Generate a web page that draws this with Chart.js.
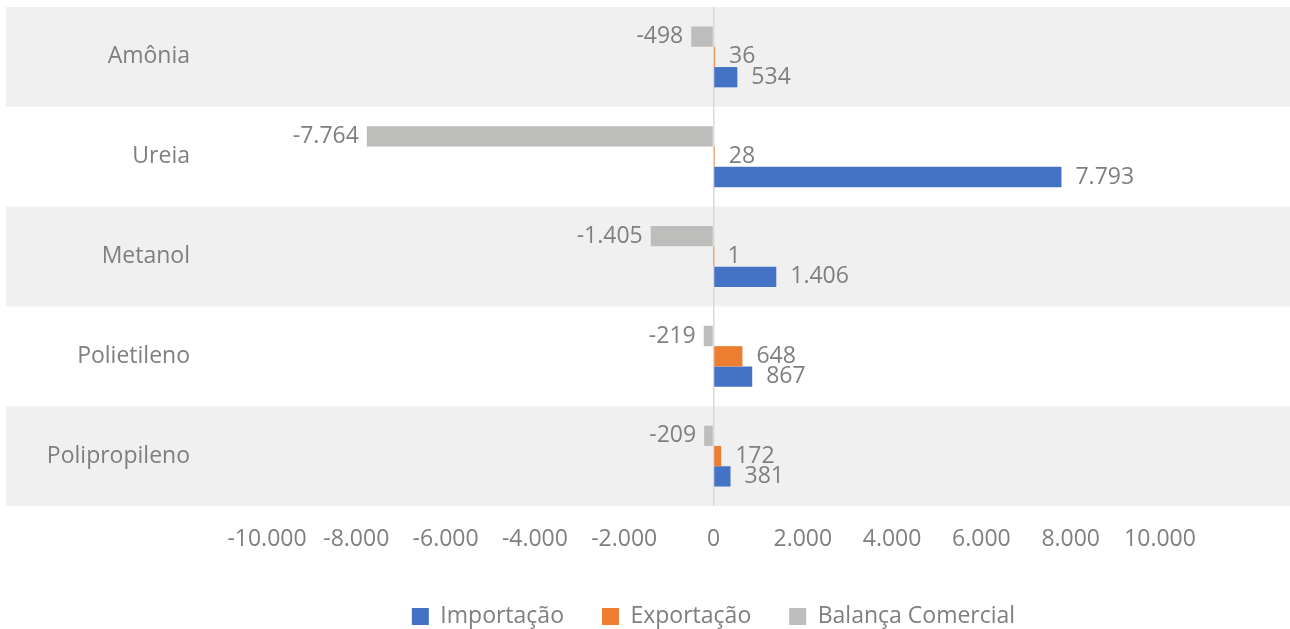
<!DOCTYPE html>
<html>
<head>
<meta charset="utf-8">
<script src="https://cdn.jsdelivr.net/npm/chart.js@4.4.1/dist/chart.umd.min.js"></script>
<style>
  html, body { margin: 0; padding: 0; background: #ffffff; }
  #wrap { width: 1290px; height: 629px; }
</style>
</head>
<body>
<div id="wrap"><canvas id="chart" width="1290" height="629"></canvas></div>
<script>
// data
var categories = ['Amônia', 'Ureia', 'Metanol', 'Polietileno', 'Polipropileno'];
var importacao = [534, 7793, 1406, 867, 381];
var exportacao = [36, 28, 1, 648, 172];
var balanca = [-498, -7764, -1405, -219, -209];

var textColor = '#7f7f7f';
var fontFamily = '"Open Sans", "Noto Sans", sans-serif';
var fontSize = 23;

function fmt(v) {
    var s = String(Math.abs(Math.round(v)));
    s = s.replace(/\B(?=(\d{3})+(?!\d))/g, '.');
    return (v < 0 ? '-' : '') + s;
}

// alternating row bands, drawn across the whole width
var bandsPlugin = {
    id: 'bands',
    beforeDraw: function(chart) {
        var ctx = chart.ctx;
        var y = chart.scales.y;
        var area = chart.chartArea;
        var step = (area.bottom - area.top) / categories.length;
        ctx.save();
        ctx.fillStyle = '#f0f0f0';
        for (var i = 0; i < categories.length; i += 2) {
            var c = y.getPixelForValue(i);
            ctx.fillRect(6, c - step / 2, chart.width - 6, step);
        }
        ctx.restore();
    }
};

// value labels at bar ends
var labelsPlugin = {
    id: 'valueLabels',
    afterDatasetsDraw: function(chart) {
        var ctx = chart.ctx;
        ctx.save();
        ctx.font = fontSize + 'px ' + fontFamily;
        ctx.fillStyle = textColor;
        ctx.textBaseline = 'middle';
        chart.data.datasets.forEach(function(ds, di) {
            var meta = chart.getDatasetMeta(di);
            meta.data.forEach(function(bar, i) {
                var v = ds.data[i];
                if (v < 0) {
                    ctx.textAlign = 'right';
                    ctx.fillText(fmt(v), bar.x - 8, bar.y);
                } else {
                    ctx.textAlign = 'left';
                    ctx.fillText(fmt(v), bar.x + 14, bar.y);
                }
            });
        });
        ctx.restore();
    }
};

var ctx = document.getElementById('chart').getContext('2d');

new Chart(ctx, {
    type: 'bar',
    data: {
        labels: categories,
        datasets: [
            {
                label: 'Balança Comercial',
                data: balanca,
                backgroundColor: '#bdbdbb'
            },
            {
                label: 'Exportação',
                data: exportacao,
                backgroundColor: '#ed7d31'
            },
            {
                label: 'Importação',
                data: importacao,
                backgroundColor: '#4472c4'
            }
        ]
    },
    options: {
        indexAxis: 'y',
        responsive: false,
        animation: false,
        layout: {
            padding: { top: 7, right: 130, bottom: -9, left: 0 }
        },
        datasets: {
            bar: {
                categoryPercentage: 0.61,
                barPercentage: 1.0,
                borderWidth: 0
            }
        },
        plugins: {
            legend: {
                position: 'bottom',
                fullSize: false,
                reverse: true,
                labels: {
                    font: { size: fontSize, family: fontFamily },
                    color: textColor,
                    boxWidth: 17,
                    boxHeight: 17,
                    padding: 38
                }
            },
            tooltip: { enabled: false }
        },
        scales: {
            x: {
                min: -10000,
                max: 10000,
                ticks: {
                    stepSize: 2000,
                    color: textColor,
                    font: { size: fontSize, family: fontFamily },
                    padding: 20,
                    maxRotation: 0,
                    callback: function(v) { return fmt(v); }
                },
                grid: {
                    drawTicks: false,
                    color: function(c) { return c.tick && c.tick.value === 0 ? '#d9d9d9' : 'rgba(0,0,0,0)'; },
                    lineWidth: 1.5
                },
                border: { display: false },
                afterFit: function(scale) { scale.height = 61; }
            },
            y: {
                ticks: {
                    color: textColor,
                    font: { size: fontSize, family: fontFamily },
                    padding: 77
                },
                grid: { display: false, drawTicks: false },
                border: { display: false },
                afterFit: function(scale) {
                    scale.width = 267;
                    scale.paddingTop = 0;
                    scale.paddingBottom = 0;
                }
            }
        }
    },
    plugins: [bandsPlugin, labelsPlugin]
});
</script>
</body>
</html>
